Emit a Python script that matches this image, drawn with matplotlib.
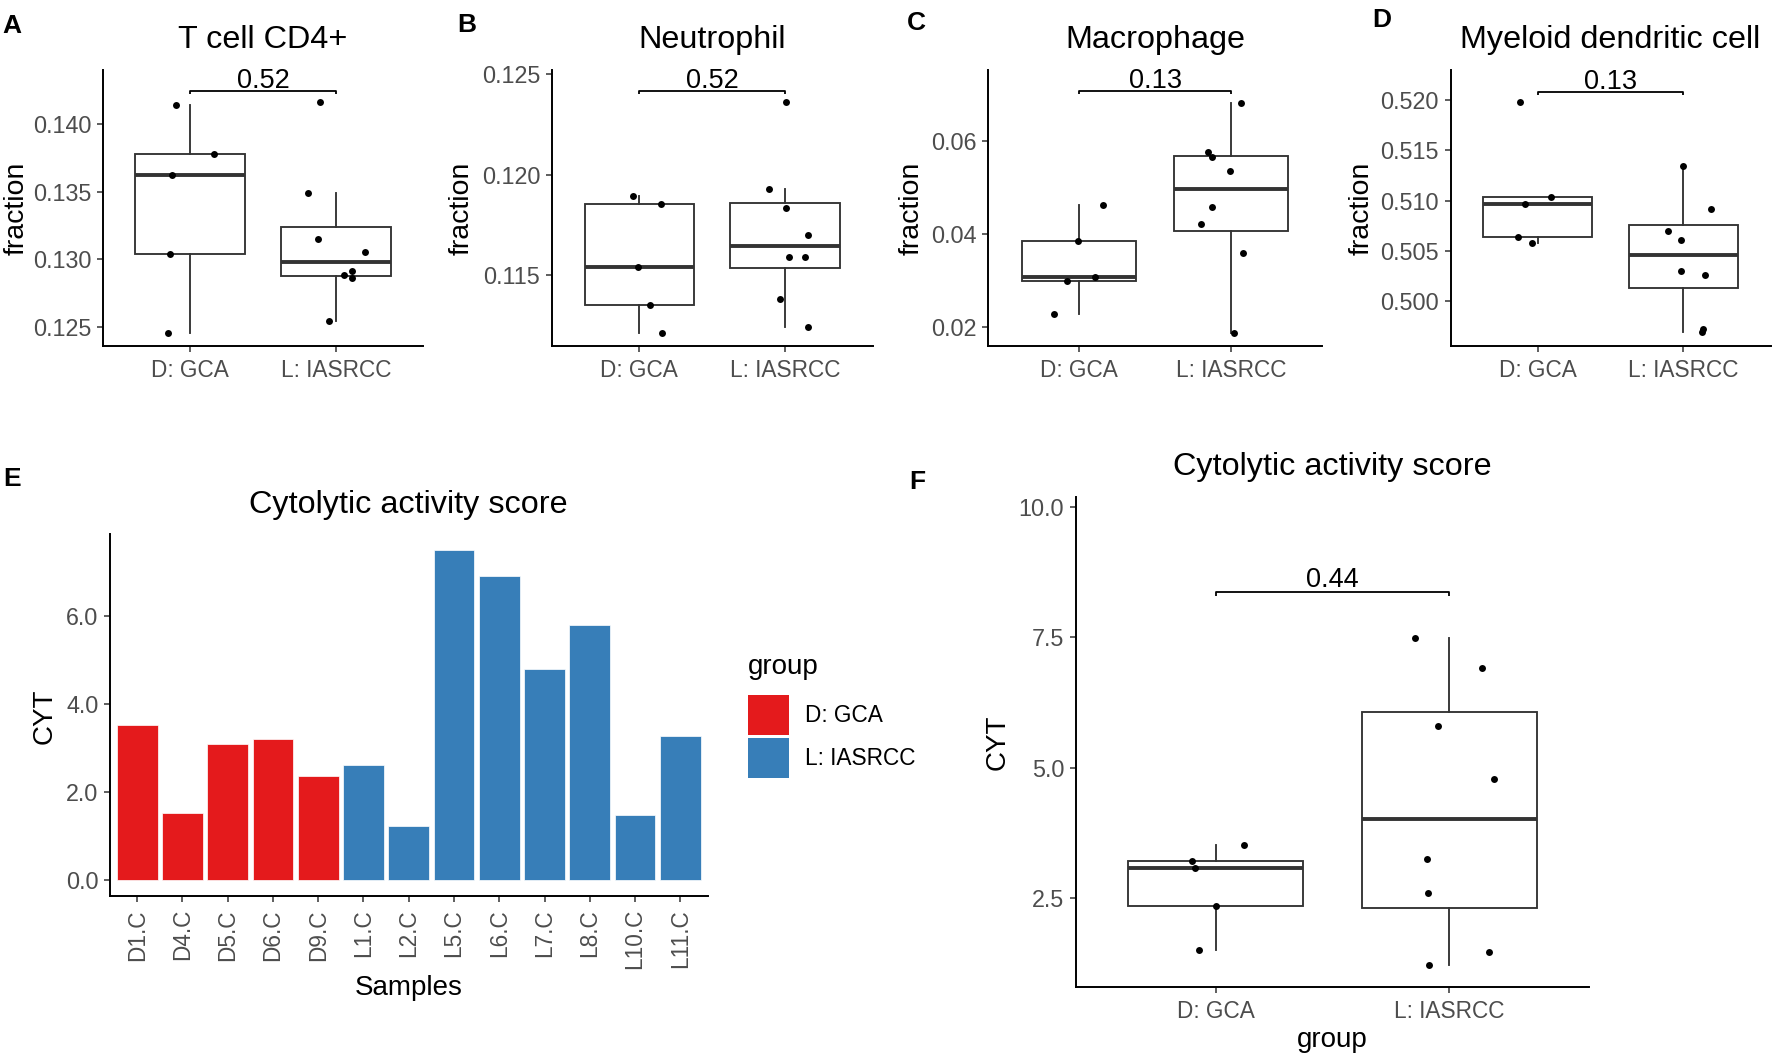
import matplotlib
matplotlib.use("Agg")
import matplotlib.pyplot as plt
from matplotlib.patches import Patch

plt.rcParams['font.family'] = ['Liberation Sans', 'DejaVu Sans']

# ---------------- data ----------------
groups = ["D: GCA", "L: IASRCC"]

tcell_gca = [0.1414, 0.1378, 0.1362, 0.1304, 0.1245]
tcell_ias = [0.1416, 0.1349, 0.1315, 0.1305, 0.1291, 0.1288, 0.1286, 0.1254]
tcell_gca_jit = [-0.097, 0.166, -0.122, -0.138, -0.152]
tcell_ias_jit = [-0.110, -0.191, -0.126, 0.202, 0.110, 0.057, 0.110, -0.044]

neut_gca = [0.11894, 0.11856, 0.11540, 0.11354, 0.11214]
neut_ias = [0.11929, 0.12360, 0.11833, 0.11702, 0.11591, 0.11591, 0.11381, 0.11245]
neut_gca_jit = [-0.043, 0.151, -0.011, 0.073, 0.153]
neut_ias_jit = [-0.107, 0.005, 0.005, 0.158, 0.027, 0.135, -0.037, 0.158]

macro_gca = [0.04628, 0.03838, 0.03063, 0.02984, 0.02266]
macro_ias = [0.06819, 0.05756, 0.05648, 0.05354, 0.04578, 0.04205, 0.03594, 0.01871]
macro_gca_jit = [0.158, -0.007, 0.103, -0.079, -0.164]
macro_ias_jit = [0.066, -0.149, -0.123, -0.009, -0.127, -0.200, 0.079, 0.020]

mdc_gca = [0.5198, 0.51038, 0.50965, 0.50640, 0.50577]
mdc_ias = [0.51343, 0.50919, 0.50696, 0.50610, 0.50302, 0.50262, 0.49721, 0.49690]
mdc_gca_jit = [-0.124, 0.089, -0.089, -0.135, -0.039]
mdc_ias_jit = [0.0, 0.192, -0.105, -0.016, -0.018, 0.151, 0.135, 0.130]

p_tcell, p_neut, p_macro, p_mdc, p_cyt = "0.52", "0.52", "0.13", "0.13", "0.44"

samples = ["D1.C", "D4.C", "D5.C", "D6.C", "D9.C", "L1.C", "L2.C", "L5.C",
           "L6.C", "L7.C", "L8.C", "L10.C", "L11.C"]
sample_group = ["D: GCA"] * 5 + ["L: IASRCC"] * 8
cyt = [3.520, 1.505, 3.087, 3.207, 2.345, 2.602, 1.218, 7.489, 6.914, 4.781,
       5.794, 1.468, 3.260]
cyt_jit = [0.121, -0.070, -0.091, -0.102, 0.0, -0.091, -0.088, -0.147, 0.142,
           0.191, -0.047, 0.170, -0.096]

colors = {"D: GCA": "#E41A1C", "L: IASRCC": "#377EB8"}

# ---------------- figure ----------------
W, H = 1772, 1055
fig = plt.figure(figsize=(W / 100, H / 100), dpi=100)

GREY_TXT = "#4D4D4D"
BOXC = "#333333"
XT, YT = 16.3, 16.8


def add_ax(l, r, t, b):
    return fig.add_axes([l / W, 1 - b / H, (r - l) / W, (b - t) / H])


def T(x, y, s, **kw):
    return fig.text(x / W, 1 - y / H, s, **kw)


def style(ax):
    for s in ("top", "right"):
        ax.spines[s].set_visible(False)
    for s in ("left", "bottom"):
        ax.spines[s].set_linewidth(1.4)
        ax.spines[s].set_color("black")
    ax.tick_params(length=4.2, width=1.1, color=BOXC, labelcolor=GREY_TXT, pad=4)
    ax.tick_params(axis="y", labelsize=YT)
    ax.tick_params(axis="x", labelsize=XT, pad=5.2)


def boxpanel(ax, data, jits, ylim, yticks, fmt, ptxt, ybr, title, axh,
             txt_off=2.2, tsize=23.3):
    ax.boxplot(data, positions=[1, 2], widths=0.75, showfliers=False,
               showcaps=False, patch_artist=True,
               boxprops=dict(facecolor="white", edgecolor=BOXC, linewidth=1.35),
               whiskerprops=dict(color=BOXC, linewidth=1.35),
               medianprops=dict(color=BOXC, linewidth=2.8))
    for i, (vals, jit) in enumerate(zip(data, jits)):
        ax.scatter([i + 1 + j for j in jit], vals, s=25, color="black",
                   linewidths=0, zorder=3)
    ax.set_xlim(0.4, 2.6)
    ax.set_ylim(*ylim)
    ax.set_yticks(yticks, [fmt % v for v in yticks])
    ax.set_xticks([1, 2], groups)
    d = (ylim[1] - ylim[0]) * 3.3 / axh
    ax.plot([1, 1, 2, 2], [ybr - d, ybr, ybr, ybr - d], color="black",
            lw=1.3, solid_capstyle="butt", clip_on=False)
    ax.annotate(ptxt, xy=(1.5, ybr), xytext=(0, txt_off), textcoords="offset points",
                ha="center", va="baseline", fontsize=19.5, color="black")
    ax.set_title(title, fontsize=tsize, pad=15.6)
    style(ax)


top, bot = 70, 346
axA = add_ax(102.7, 423.3, top, bot)
boxpanel(axA, [tcell_gca, tcell_ias], [tcell_gca_jit, tcell_ias_jit],
         (0.12357, 0.1440), [0.125, 0.130, 0.135, 0.140], "%.3f", p_tcell,
         0.14247, "T cell CD4+", bot - top)
axB = add_ax(551.7, 872.6, top, bot)
boxpanel(axB, [neut_gca, neut_ias], [neut_gca_jit, neut_ias_jit],
         (0.11149, 0.1252), [0.115, 0.120, 0.125], "%.3f", p_neut,
         0.12417, "Neutrophil", bot - top)
axC = add_ax(988.0, 1322.2, top, bot)
boxpanel(axC, [macro_gca, macro_ias], [macro_gca_jit, macro_ias_jit],
         (0.01583, 0.0753), [0.02, 0.04, 0.06], "%.2f", p_macro,
         0.07084, "Macrophage", bot - top)
axD = add_ax(1450.5, 1770.7, top, bot)
boxpanel(axD, [mdc_gca, mdc_ias], [mdc_gca_jit, mdc_ias_jit],
         (0.49552, 0.52299), [0.500, 0.505, 0.510, 0.515, 0.520], "%.3f", p_mdc,
         0.52083, "Myeloid dendritic cell", bot - top)

for x in (17, 462, 912, 1362):
    T(x, 208, "fraction", rotation=90, ha="center", va="center", fontsize=20.5)

# ---------------- panel E ----------------
axE = add_ax(110, 707.5, 534, 896)
xpos = list(range(1, len(samples) + 1))
axE.bar(xpos, cyt, width=0.9, color=[colors[g] for g in sample_group],
        edgecolor="white", linewidth=0.5)
axE.set_xlim(0.4, len(samples) + 0.6)
axE.set_ylim(-0.374, 7.86)
axE.set_yticks([0, 2, 4, 6], ["%.1f" % v for v in [0, 2, 4, 6]])
axE.set_xticks(xpos, samples, rotation=90)
axE.set_title("Cytolytic activity score", fontsize=23.3, pad=15.3)
style(axE)
T(45, 716, "CYT", rotation=90, ha="center", va="center", fontsize=20)
T(408.7, 988, "Samples", ha="center", va="center", fontsize=20)

handles = [Patch(facecolor=colors[g], edgecolor="none") for g in groups]
leg = axE.legend(handles, groups, title="group", loc="upper left",
                 bbox_to_anchor=(748 / W, 1 - 654 / H),
                 bbox_transform=fig.transFigure, frameon=False,
                 fontsize=XT, title_fontsize=20, alignment="left",
                 handlelength=1.8, handleheight=2.35, labelspacing=0.12,
                 handletextpad=0.7, borderpad=0, borderaxespad=0)
leg._legend_box.sep = 11

# ---------------- panel F ----------------
axF = add_ax(1075.7, 1589.3, 496.7, 987.3)
cyt_g = [[v for v, g in zip(cyt, sample_group) if g == k] for k in groups]
jit_g = [[j for j, g in zip(cyt_jit, sample_group) if g == k] for k in groups]
boxpanel(axF, cyt_g, jit_g, (0.795, 10.19), [2.5, 5.0, 7.5, 10.0], "%.1f",
         p_cyt, 8.36, "Cytolytic activity score", 987.3 - 496.7, txt_off=4.0)
T(998, 742, "CYT", rotation=90, ha="center", va="center", fontsize=20)
T(1332.5, 1040, "group", ha="center", va="center", fontsize=20)

# ---------------- panel letters ----------------
for lab, x, y in [("A", 2, 14), ("B", 457, 12.5), ("C", 907, 11), ("D", 1372, 8),
                  ("E", 3, 467), ("F", 909, 470)]:
    T(x, y, lab, fontweight="bold", fontsize=19, ha="left", va="top")

fig.savefig("out.png", dpi=100)
